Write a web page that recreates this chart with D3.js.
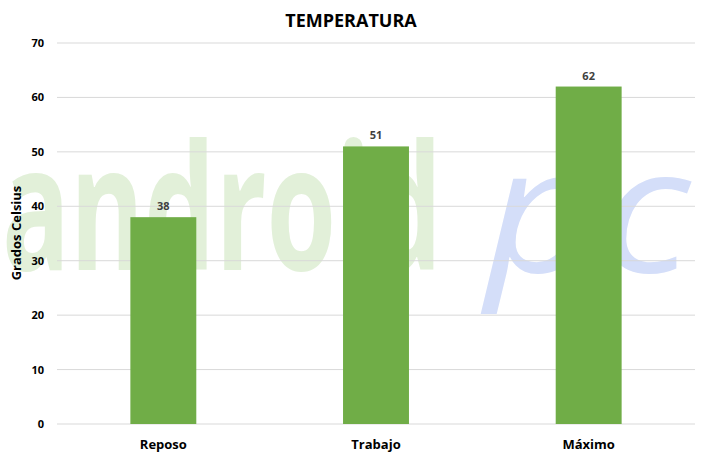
<!DOCTYPE html>
<html><head><meta charset="utf-8">
<script src="https://cdn.jsdelivr.net/npm/d3@7"></script>
<style>body{margin:0;background:#fff}text{font-family:"Open Sans",sans-serif}</style>
</head><body><svg id="c" width="702" height="456"></svg>
<script>
const categories=["Reposo","Trabajo","Máximo"];
const values=[38,51,62];
const yTicks=[0,10,20,30,40,50,60,70];
const svg=d3.select("#c");
const m={l:57,r:695,t:43,b:424};
// watermark
svg.append("text").attr("x",2).attr("y",270).attr("font-size",175).attr("font-weight","bold")
 .attr("fill","#e2f0d9").attr("textLength",440).attr("lengthAdjust","spacingAndGlyphs").text("android");
svg.append("text").attr("x",485).attr("y",272).attr("font-size",175).attr("font-style","italic")
 .attr("fill","#d4def9").attr("textLength",205).attr("lengthAdjust","spacingAndGlyphs").text("pc");
const x=d3.scaleBand().domain(categories).range([m.l,m.r]).paddingInner(0.69).paddingOuter(0.345);
const y=d3.scaleLinear().domain([0,70]).range([m.b,m.t]);
svg.append("g").selectAll("line").data(yTicks).join("line")
 .attr("x1",m.l).attr("x2",m.r).attr("y1",d=>y(d)).attr("y2",d=>y(d)).attr("stroke","#d9d9d9");
svg.append("g").selectAll("text").data(yTicks).join("text")
 .attr("x",44).attr("y",d=>y(d)+4).attr("text-anchor","end").attr("font-size",11).attr("font-weight","bold").attr("fill","#000").text(d=>d);
svg.append("g").selectAll("rect").data(values).join("rect")
 .attr("x",(d,i)=>x(categories[i])).attr("width",x.bandwidth()).attr("y",d=>y(d)).attr("height",d=>y(0)-y(d)).attr("fill","#70ad47");
svg.append("g").selectAll("text").data(values).join("text")
 .attr("x",(d,i)=>x(categories[i])+x.bandwidth()/2).attr("y",d=>y(d)-7).attr("text-anchor","middle")
 .attr("font-size",11).attr("font-weight","bold").attr("fill","#404040").text(d=>d);
svg.append("g").selectAll("text").data(categories).join("text")
 .attr("x",d=>x(d)+x.bandwidth()/2).attr("y",449).attr("text-anchor","middle")
 .attr("font-size",13).attr("font-weight","bold").attr("fill","#000").text(d=>d);
svg.append("text").attr("x",351).attr("y",27).attr("text-anchor","middle").attr("font-size",18).attr("font-weight","bold").text("TEMPERATURA");
svg.append("text").attr("transform","translate(21,233) rotate(-90)").attr("text-anchor","middle").attr("font-size",13).attr("font-weight","bold").text("Grados Celsius");
</script></body></html>
